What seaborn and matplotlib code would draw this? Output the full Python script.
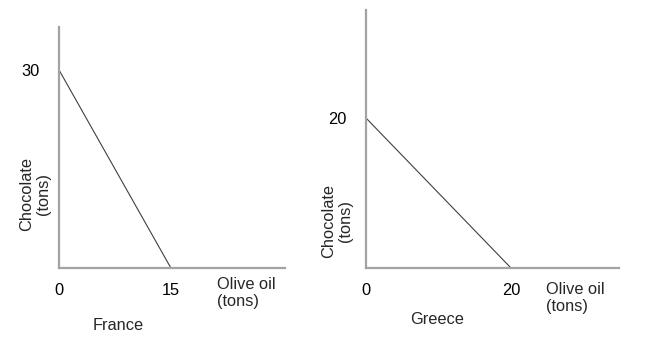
import matplotlib
matplotlib.use("Agg")
import matplotlib.pyplot as plt
import seaborn as sns
import pandas as pd

sns.set_style("white")
plt.rcParams['font.family'] = ['Liberation Sans', 'DejaVu Sans']

# Data
france_oil = [0, 15]
france_choc = [30, 0]
greece_oil = [0, 20]
greece_choc = [20, 0]
x_label = "Olive oil\n(tons)"
y_label = "Chocolate\n(tons)"
titles = ["France", "Greece"]

W, H = 646, 339
fig = plt.figure(figsize=(W / 100, H / 100), dpi=100)

def px_axes(x0, y0, x1, y1):
    return fig.add_axes([x0 / W, 1 - y1 / H, (x1 - x0) / W, (y1 - y0) / H])

AX_COLOR = "#a3a3a3"
LINE_COLOR = "#404040"
FS = 11.8

panels = [
    dict(box=(59, 27, 285, 268), xlim=(0, 30.3), ylim=(0, 36.5),
         oil=france_oil, choc=france_choc, xticks=[0, 15], yticks=[30],
         xlab=(217, 277), title=titles[0], tpos=(118, 326), ylpos=(35, 194)),
    dict(box=(366, 10, 619, 268), xlim=(0, 34.9), ylim=(0, 34.4),
         oil=greece_oil, choc=greece_choc, xticks=[0, 20], yticks=[20],
         xlab=(546, 282), title=titles[1], tpos=(437, 320), ylpos=(337, 221)),
]

for p in panels:
    ax = px_axes(*p["box"])
    df = pd.DataFrame({"oil": p["oil"], "choc": p["choc"]})
    sns.lineplot(data=df, x="oil", y="choc", ax=ax, color=LINE_COLOR,
                 linewidth=0.8, estimator=None, sort=False)
    ax.set_xlim(*p["xlim"])
    ax.set_ylim(*p["ylim"])
    for s in ["top", "right"]:
        ax.spines[s].set_visible(False)
    for s in ["left", "bottom"]:
        ax.spines[s].set_color(AX_COLOR)
        ax.spines[s].set_linewidth(1.6)
    ax.set_xticks(p["xticks"])
    ax.set_xticklabels([str(v) for v in p["xticks"]])
    ax.set_yticks(p["yticks"])
    ax.set_yticklabels([str(v) for v in p["yticks"]])
    ax.tick_params(axis="x", length=0, pad=11, labelsize=FS, colors="black")
    ax.tick_params(axis="y", length=0, pad=14, labelsize=FS, colors="black")
    ax.set_xlabel("")
    ax.set_ylabel("")
    ax.patch.set_alpha(0)
    fig.text(p["xlab"][0] / W, 1 - p["xlab"][1] / H, x_label, ha="left", va="top",
             fontsize=FS, linespacing=1.2)
    fig.text(p["tpos"][0] / W, 1 - p["tpos"][1] / H, p["title"], ha="center", va="center",
             fontsize=FS)
    fig.text(p["ylpos"][0] / W, 1 - p["ylpos"][1] / H, y_label, ha="center", va="center",
             rotation=90, fontsize=FS, linespacing=1.1)

fig.savefig("out.png", dpi=100)
